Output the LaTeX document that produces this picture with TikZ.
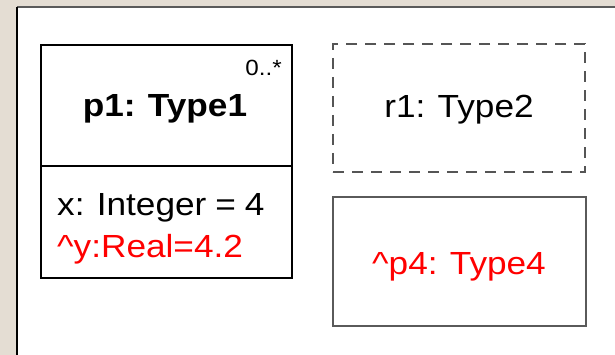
\documentclass[tikz,border=0pt]{standalone}
\usepackage{fontspec}
\setmainfont[FakeStretch=1.1,WordSpace=0.92]{Liberation Sans}
\definecolor{paper}{HTML}{E4DDD3}
\definecolor{framegray}{HTML}{5A5A5A}
\definecolor{dashgray}{HTML}{555555}
\definecolor{attrred}{HTML}{FF0000}
\begin{document}
\begin{tikzpicture}[x=1pt,y=-1pt,
  box/.style={draw=black, line width=1.1pt, fill=white, inner sep=0pt},
  ghostbox/.style={draw=dashgray, line width=1.3pt, dash pattern=on 11pt off 8pt, inner sep=0pt},
  big/.style={font=\fontsize{32}{36}\selectfont, inner sep=0pt},
  small/.style={font=\fontsize{22}{24}\selectfont, inner sep=0pt}]
  % canvas and panel
  \fill[paper] (0,0) rectangle (615,355);
  \useasboundingbox (0,0) rectangle (615,355);
  \fill[white] (17,7) rectangle (615,355);
  \draw[framegray, line width=1.5pt] (17,7) -- (615,7);
  \draw[black, line width=2pt] (17,7) -- (17,355);

  % part p1
  \node[box, minimum width=251pt, minimum height=233pt] (p1) at (166.5,161.5) {};
  \coordinate (divL) at (41,166);
  \coordinate (divR) at (292,166);
  \draw[line width=1.1pt] (divL) -- (divR);
  \node[small, anchor=base east] (mult) at (282,76) {0..*};
  \node[big, anchor=base, font=\fontsize{32}{36}\selectfont\bfseries] (p1name) at (165,117) {p1: Type1};
  \node[big, anchor=base west] (xattr) at (57,215) {x: Integer = 4};
  \node[big, anchor=base west, text=attrred] (yattr) at (57,258) {\textasciicircum y:Real=4.2};

  % reference r1
  \node[ghostbox, minimum width=252pt, minimum height=128pt] (r1) at (459,108) {};
  \node[big, anchor=base] (r1name) at (459,118) {r1: Type2};

  % part p4
  \node[box, draw=framegray, minimum width=253pt, minimum height=129pt] (p4) at (459.5,261.5) {};
  \node[big, anchor=base, text=attrred] (p4name) at (459,274) {\textasciicircum p4: Type4};
\end{tikzpicture}
\end{document}
